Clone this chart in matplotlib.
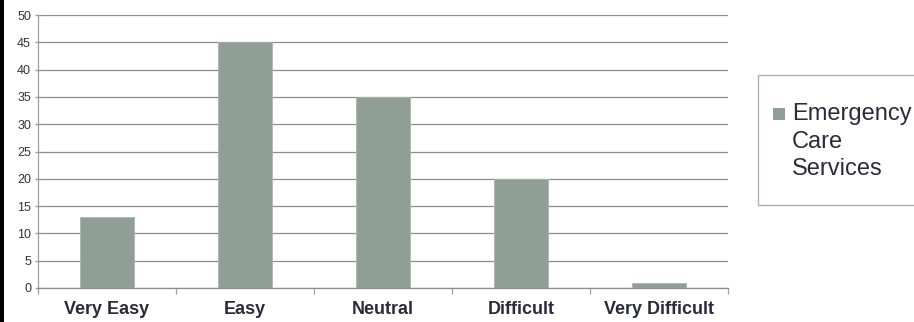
import matplotlib
matplotlib.use("Agg")
import matplotlib.pyplot as plt
from matplotlib.patches import Rectangle

categories = ["Very Easy", "Easy", "Neutral", "Difficult", "Very Difficult"]
values = [13, 45, 35, 20, 1]
series_name = "Emergency\nCare\nServices"
yticks = list(range(0, 55, 5))

BAR = "#8f9f95"
GRID = "#8c8c8c"
TXT = "#2b2b3a"

W, H = 914, 322
fig = plt.figure(figsize=(W / 100, H / 100), dpi=100)
ax = fig.add_axes([38 / W, 1 - 288 / H, (728 - 38) / W, (288 - 15) / H])

x = range(len(categories))
ax.bar(x, values, width=0.39, color=BAR, edgecolor="#a9b6ae", linewidth=0.6, zorder=3)

ax.set_xlim(-0.5, len(categories) - 0.5)
ax.set_ylim(0, 50)
ax.set_yticks(yticks)
ax.set_yticklabels([str(v) for v in yticks], fontsize=9, color="#333333",
                   family="Liberation Sans")
ax.yaxis.grid(True, color=GRID, lw=0.9, zorder=0)
ax.set_axisbelow(True)

# category labels centred, ticks at boundaries
ax.set_xticks(list(x))
ax.set_xticklabels(categories, fontsize=13, fontweight="bold", color=TXT,
                   family="Liberation Sans")
ax.tick_params(axis="x", which="major", length=0, pad=9)
ax.set_xticks([i - 0.5 for i in range(len(categories) + 1)], minor=True)
ax.tick_params(axis="x", which="minor", length=4, color="#a0a0a0", width=0.9)
ax.tick_params(axis="y", length=4, direction="inout", color="#9a9a9a",
               width=0.9, pad=3)

for s in ("top", "right"):
    ax.spines[s].set_visible(False)
ax.spines["left"].set_color("#a0a0a0")
ax.spines["bottom"].set_color("#8c8c8c")
ax.spines["left"].set_linewidth(0.9)
ax.spines["bottom"].set_linewidth(0.9)

# legend box (runs off the right edge)
fig.patches.append(Rectangle((758 / W, 1 - 205 / H), (940 - 758) / W, (205 - 74.5) / H,
                             transform=fig.transFigure, facecolor="white",
                             edgecolor="#aab2ae", lw=1.0, clip_on=False))
fig.patches.append(Rectangle((773 / W, 1 - 120 / H), 12 / W, 12 / H,
                             transform=fig.transFigure, facecolor=BAR,
                             edgecolor="none"))
fig.text(792 / W, 1 - 103 / H, series_name, ha="left", va="top", fontsize=17,
         color=TXT, linespacing=1.33, family="Liberation Sans")

# black border on the left edge
fig.patches.append(Rectangle((0, 0), 4 / W, 1, transform=fig.transFigure,
                             facecolor="black", edgecolor="none"))

fig.savefig("out.png", dpi=100)
